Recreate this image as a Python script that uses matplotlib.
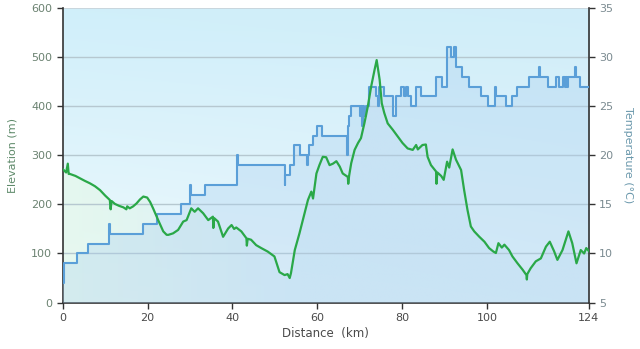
import numpy as np
import matplotlib
matplotlib.use("Agg")
import matplotlib.pyplot as plt
from matplotlib.patches import Polygon

# Elevation profile along the route
dist_km = [0, 0.8, 1.2, 1.4, 1.7, 3.0, 4.1, 5.2, 6.4, 7.6, 8.8, 10.0, 11.1, 11.3, 11.5,
           12.3, 13.3, 14.3, 15.0, 15.2, 15.8, 16.6, 17.4, 18.2, 19.0, 19.9, 20.6, 21.3,
           22.5, 23.7, 24.5, 24.9, 26.0, 27.2, 28.4, 29.2, 30.3, 31.1, 31.9, 33.1, 34.3,
           35.4, 35.5, 35.7, 36.6, 37.8, 39.0, 39.8, 40.4, 40.9, 42.1, 43.3, 43.4, 43.6,
           44.4, 45.6, 46.8, 48.3, 49.9, 51.1, 52.3, 53.0, 53.5, 53.8, 54.7, 55.8, 57.0,
           57.8, 58.6, 59.0, 59.8, 60.5, 61.3, 62.1, 62.9, 63.7, 64.5, 65.3, 66.0, 67.2,
           67.3, 67.5, 68.0, 68.8, 69.6, 70.3, 71.1, 71.9, 72.7, 73.5, 74.0, 74.7, 75.2,
           75.8, 76.6, 77.8, 79.0, 80.1, 81.3, 82.5, 83.3, 83.7, 84.8, 85.6, 86.0, 86.8,
           88.0, 88.1, 88.3, 89.2, 89.8, 90.6, 91.1, 91.9, 92.7, 93.9, 94.6, 95.4, 96.2,
           97.0, 98.2, 99.4, 100.5, 101.5, 102.1, 102.7, 103.5, 104.1, 105.2, 106.0,
           107.2, 108.4, 109.3, 109.4, 109.5, 110.3, 111.5, 112.7, 113.9, 114.8, 115.8,
           116.6, 117.8, 119.2, 120.1, 121.1, 122.1, 122.9, 123.4, 124.0]
elev_m = [272, 265, 283, 262, 262, 258, 253, 248, 243, 237, 229, 218, 209, 190, 207,
          201, 197, 194, 190, 196, 192, 196, 202, 210, 216, 214, 205, 192,
          168, 145, 138, 138, 141, 148, 165, 168, 192, 185, 192, 182, 168,
          175, 152, 172, 165, 134, 151, 158, 150, 153, 145, 131, 116, 130,
          128, 117, 111, 104, 94, 62, 56, 58, 50, 60, 107, 141, 182,
          209, 226, 212, 263, 280, 297, 296, 280, 283, 288, 277, 263, 256,
          242, 258, 284, 311, 325, 335, 365, 399, 440, 474, 494, 454, 406,
          386, 365, 352, 338, 325, 314, 311, 321, 312, 321, 322, 297, 280,
          267, 242, 265, 258, 250, 287, 275, 312, 291, 270, 230, 189, 155,
          145, 134, 124, 111, 104, 101, 121, 112, 118, 107, 94,
          80, 67, 56, 47, 58, 70, 84, 90, 114, 124, 105,
          87, 107, 145, 121, 80, 107, 100, 111, 105]

# Temperature readings (value holds until the next distance)
temp_km = [0, 0.3, 3.4, 5.9, 11.0, 11.2, 19.0, 22.3, 27.8, 30.0, 30.2, 33.5, 41.1, 41.3,
           52.3, 52.5, 53.5, 54.4, 56.0, 57.6, 57.8, 58.0, 59.0, 60.0, 61.1, 67.0, 67.2,
           67.4, 68.0, 70.1, 70.3, 70.5, 70.7, 71.0, 71.5, 72.3, 73.9, 74.3, 74.5, 75.8,
           77.8, 78.6, 79.8, 80.5, 80.8, 81.3, 82.1, 83.3, 84.5, 88.0, 89.4, 90.6, 91.5,
           92.3, 92.7, 94.1, 95.8, 98.6, 100.2, 102.0, 102.2, 104.4, 106.0, 107.0, 110.0,
           112.2, 112.5, 114.3, 116.2, 117.0, 117.9, 118.3, 118.6, 118.9, 119.2, 120.8,
           121.0, 122.0, 124.0]
temp_c = [7, 9, 10, 11, 13, 12, 13, 14, 15, 17, 16, 17, 20, 19,
          17, 18, 19, 21, 20, 19, 20, 21, 22, 23, 22, 20, 23,
          24, 25, 24, 25, 23, 25, 24, 25, 27, 26, 25, 27, 26,
          24, 26, 27, 26, 27, 26, 25, 27, 26, 28, 27, 31, 30,
          31, 29, 28, 27, 26, 25, 27, 26, 25, 26, 27, 28,
          29, 28, 27, 28, 27, 28, 27, 28, 27, 28, 29,
          28, 27, 27]

x_ticks = [0, 20, 40, 60, 80, 100, 124]
elev_ticks = [0, 100, 200, 300, 400, 500, 600]
temp_ticks = [5, 10, 15, 20, 25, 30, 35]

green = "#2aa848"
blue = "#5a9fd8"
axis_dark = "#333333"

fig = plt.figure(figsize=(6.4, 3.49), dpi=100)
ax = fig.add_axes([0.098, 0.133, 0.822, 0.844])
ax.set_xlim(0, 124)
ax.set_ylim(0, 600)

# Plot-area background: soft cyan fading towards the bottom
ny, nx = 200, 300
yy = np.linspace(1, 0, ny)[:, None]
xx = np.linspace(0, 1, nx)[None, :]
top = np.array([208, 239, 250]) / 255
low = np.array([244, 251, 253]) / 255
right_tint = np.array([208, 234, 248]) / 255
w = yy[..., None] ** 0.8
bg = top * w + low * (1 - w)
bg = bg * (1 - 0.3 * xx[..., None]) + right_tint * 0.3 * xx[..., None]
ax.imshow(bg, extent=[0, 124, 0, 600], aspect="auto", zorder=0, interpolation="bilinear")

# Area under the elevation line: pale green on the left turning blue to the right
fill_rgba = np.zeros((2, nx, 4))
g0 = np.array([230, 249, 236]) / 255
g1 = np.array([214, 236, 248]) / 255
mix = np.clip(xx[0] / 0.45, 0, 1)[:, None]
fill_rgba[..., :3] = g0 * (1 - mix) + g1 * mix
fill_rgba[..., 3] = 0.8
im = ax.imshow(fill_rgba, extent=[0, 124, 0, 600], aspect="auto", zorder=1,
               interpolation="bilinear")
poly_xy = np.column_stack([[dist_km[0]] + dist_km + [dist_km[-1]],
                           [0] + elev_m + [0]])
clip = Polygon(poly_xy, closed=True, transform=ax.transData, facecolor="none",
               edgecolor="none")
ax.add_patch(clip)
im.set_clip_path(clip)

for v in elev_ticks[1:-1]:
    ax.axhline(v, color="#b6c8d0", lw=1.0, zorder=2)
ax.axhline(600, color="#c8d2d8", lw=1.2, zorder=2)

ax.set_xticks(x_ticks)
ax.set_yticks(elev_ticks)
ax.tick_params(axis="y", colors=axis_dark, labelcolor="#6b8271", labelsize=8,
               length=4, width=1, direction="out")
ax.tick_params(axis="x", colors=axis_dark, labelcolor="#4a4a4a", labelsize=8,
               length=4, width=1, direction="out")
for side in ("left", "bottom"):
    ax.spines[side].set_color(axis_dark)
    ax.spines[side].set_linewidth(1.2)
ax.spines["top"].set_visible(False)
ax.spines["right"].set_visible(False)
ax.set_xlabel("Distance  (km)", fontsize=8.5, color="#4a4a4a", labelpad=3)
ax.set_ylabel("Elevation (m)", fontsize=8, color="#5e8a6a", labelpad=10)

# Temperature on its own scale
ax2 = ax.twinx()
ax2.set_ylim(5, 35)
ax2.set_yticks(temp_ticks)
ax2.fill_between(temp_km, temp_c, 5, step="post", color="#a6cdee", alpha=0.3,
                 lw=0, zorder=1)
ax2.plot(temp_km, temp_c, drawstyle="steps-post", color=blue, lw=1.5, zorder=3)
ax2.tick_params(axis="y", colors=axis_dark, labelcolor="#7a8a90", labelsize=8,
                length=4, width=1, direction="out")
for side in ("left", "bottom", "top"):
    ax2.spines[side].set_visible(False)
ax2.spines["right"].set_color(axis_dark)
ax2.spines["right"].set_linewidth(1.2)
ax2.set_ylabel("Temperature (°C)", fontsize=8, color="#6a98ac", rotation=270,
               labelpad=14)

# Elevation line drawn last so it sits on top
ax3 = ax.twinx()
ax3.set_ylim(0, 600)
ax3.plot(dist_km, elev_m, color=green, lw=1.6, zorder=4)
ax3.set_yticks([])
for s in ax3.spines.values():
    s.set_visible(False)

fig.savefig("out.png", dpi=100)
